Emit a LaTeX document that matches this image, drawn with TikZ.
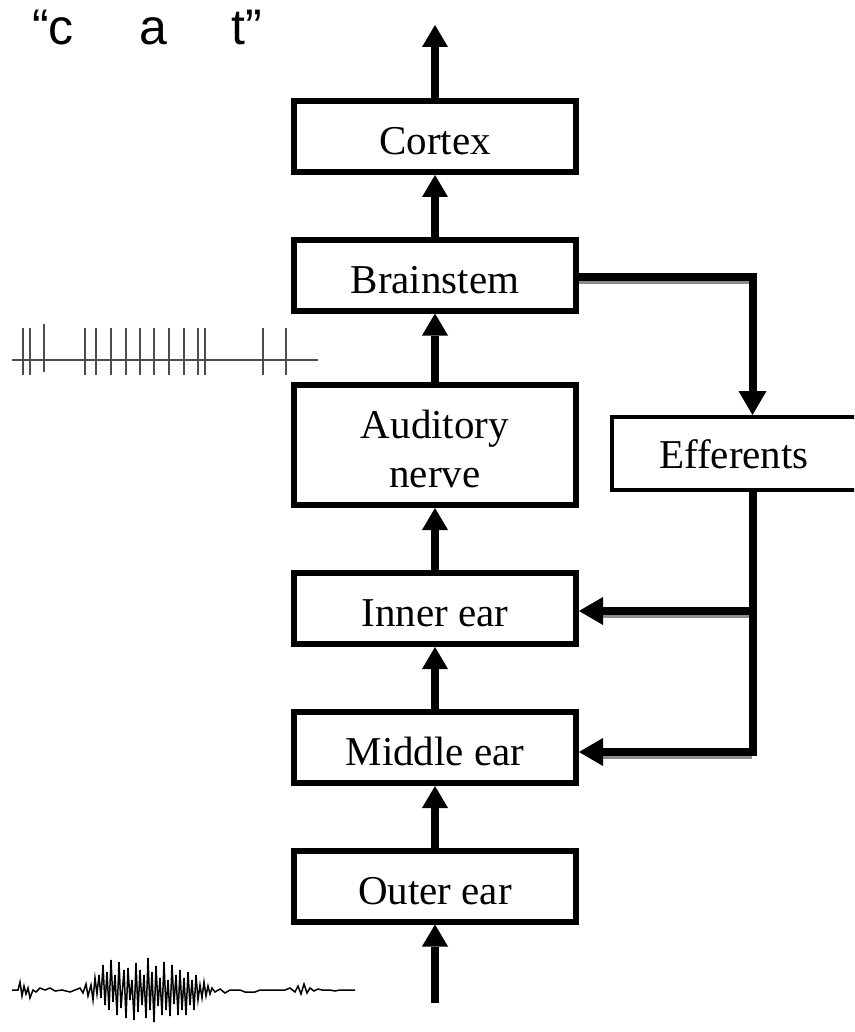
\documentclass[tikz,border=0pt]{standalone}
\usepackage{fontspec}
\setmainfont{Liberation Serif}
\newfontfamily\catfont{Liberation Sans}
\usetikzlibrary{arrows.meta}
\begin{document}
\begin{tikzpicture}[x=1pt,y=-1pt,
  box/.style={draw, line width=6pt, minimum width=282pt, minimum height=71pt, inner sep=0pt,
    font=\fontsize{41}{49}\selectfont, align=center, text height=38pt, text depth=2pt},
  effbox/.style={draw, line width=4pt, minimum width=264pt, minimum height=73pt, inner sep=0pt,
    font=\fontsize{41}{49}\selectfont, text height=31pt, text depth=2pt},
  arr/.style={line width=8pt, -{Triangle[length=22pt 0 0, width=26pt 0 0, line width=0pt]}},
  efarr/.style={line width=8pt, -{Triangle[length=24pt 0 0, width=28pt 0 0, line width=0pt]}},
  shadow/.style={line width=3pt, draw=black!45},
  spike/.style={line width=2pt, draw=black!70},
  cattext/.style={anchor=base west, inner sep=0pt, font=\catfont\fontsize{50}{60}\selectfont}
]
\useasboundingbox (0,0) rectangle (854,1032);
\clip (0,0) rectangle (854,1032);

% boxes
\node[box] (cortex) at (435,136.5) {Cortex};
\node[box] (brainstem) at (435,275) {Brainstem};
\node[box, minimum height=120pt, text height=87pt, text depth=3pt] (nerve) at (435,445) {Auditory\\nerve};
\node[box] (inner) at (435,608.5) {Inner ear};
\node[box] (middle) at (435,747.5) {Middle ear};
\node[box] (outer) at (435,886) {Outer ear};
\node[effbox] (eff) at (744,453.5) {\hspace*{-20pt}Efferents};

% free ends
\coordinate (top) at (435,25);
\coordinate (bottom) at (435,1003);
\coordinate (ej) at (752.5,277);
\coordinate (ei) at (752.5,611);
\coordinate (eb) at (752.5,752);

% ascending arrows
\draw[arr] (cortex.north) -- (top);
\draw[arr] (brainstem.north) -- (cortex.south);
\draw[arr] (nerve.north) -- (brainstem.south);
\draw[arr] (inner.north) -- (nerve.south);
\draw[arr] (middle.north) -- (inner.south);
\draw[arr] (outer.north) -- (middle.south);
\draw[arr] (bottom) -- (outer.south);

% shadows under efferent horizontals
\draw[shadow] (brainstem.east |- 0,282) -- (750,282);
\draw[shadow] (603,616) -- (750,616);
\draw[shadow] (603,757) -- (752,757);

% efferent pathways
\draw[efarr, line join=miter] (brainstem.east |- ej) -- (ej) -- (ej |- eff.north);
\draw[efarr, line join=miter] (eff.south -| eb) -- (eb) -- (middle.east |- eb);
\draw[efarr] (ei) -- (inner.east |- ei);

% spike train
\draw[spike] (12,360) -- (318,360);
\foreach \sx in {23,30,85,96,111,126,140,154,169,184,198,205,263,286}
  \draw[spike] (\sx,328) -- (\sx,375);
\draw[spike] (44,324) -- (44,372);

% speech waveform
\draw[line width=1.5pt, line join=miter]
  (12,990) -- (18,990) -- (20,982) -- (22,996) -- (24,986) -- (26,994) -- (28,988) -- (30,998)
  -- (33,990) -- (36,992) -- (40,988) -- (45,990) -- (50,988) -- (55,991) -- (62,990) -- (70,992)
  -- (75,990) -- (80,988) -- (83,993) -- (86,984) -- (88,996) -- (91,985) -- (93,1000) -- (95,978)
  -- (97,994) -- (99,975) -- (101,998) -- (103,965) -- (105,1005) -- (107,972) -- (109,1010)
  -- (111,960) -- (113,1002) -- (115,975) -- (117,1015) -- (119,962) -- (121,1008) -- (124,970)
  -- (126,1018) -- (128,968) -- (130,1000) -- (132,980) -- (134,1020) -- (136,963) -- (138,1012)
  -- (140,970) -- (142,1005) -- (144,975) -- (146,1018) -- (148,958) -- (150,1010) -- (152,972)
  -- (154,1022) -- (156,966) -- (158,1006) -- (160,978) -- (162,1015) -- (164,962) -- (166,1010)
  -- (168,980) -- (170,1016) -- (172,965) -- (174,1004) -- (176,975) -- (178,1015) -- (180,970)
  -- (182,1010) -- (184,978) -- (186,1015) -- (188,972) -- (190,1005) -- (192,980) -- (194,1010)
  -- (196,975) -- (198,1000) -- (200,985) -- (202,998) -- (204,982) -- (206,996) -- (208,986)
  -- (210,994) -- (212,988) -- (215,992) -- (220,989) -- (225,993) -- (230,990) -- (240,990)
  -- (245,992) -- (255,992) -- (260,990) -- (285,990) -- (290,988) -- (295,992) -- (298,986)
  -- (301,994) -- (304,984) -- (307,993) -- (310,988) -- (314,991) -- (318,989) -- (322,990)
  -- (330,990) -- (335,991) -- (340,990) -- (355,990);

% "cat"
\node[cattext] (c1) at (32,45) {“c};
\node[cattext] (c2) at (139,45) {a};
\node[cattext] (c3) at (231,45) {t”};
\end{tikzpicture}
\end{document}
